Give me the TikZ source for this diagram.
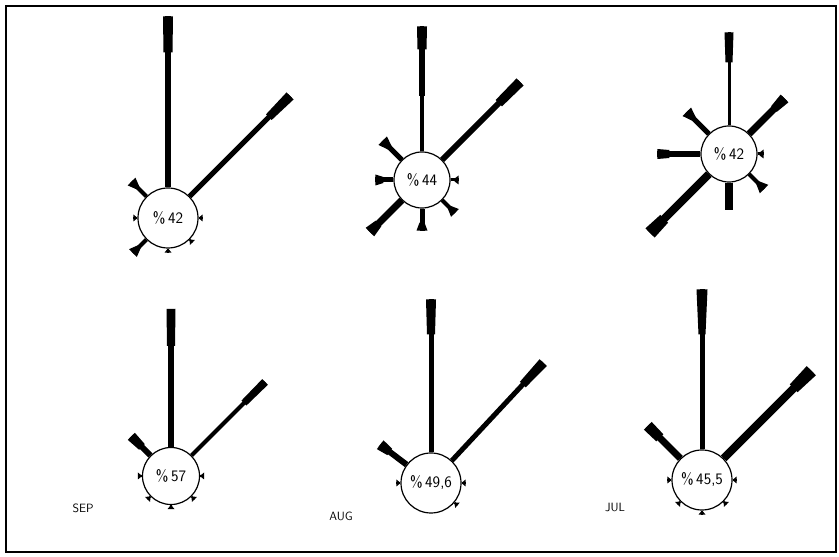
\documentclass[tikz,border=0pt]{standalone}
\usepackage{tikz}

% one arm of a rose: node, angle, length, neck width, head length, head widths
\newcommand{\windarm}[7]{%
  \begin{scope}[shift={(#1.#2)}, rotate=#2]
    \draw[line width=#4pt] (0,0) -- (#3,0);
    \fill (#3-#5, #6/2) -- (#3, #7/2) -- (#3, -#7/2) -- (#3-#5, -#6/2) -- cycle;
  \end{scope}}

\tikzset{
  rose/.style={circle, draw, line width=1.2pt, fill=white, inner sep=0pt,
    font=\sffamily\fontsize{16}{16}\selectfont},
  month/.style={font=\sffamily\large}
}

\begin{document}
\begin{tikzpicture}[x=1pt, y=1pt]
\useasboundingbox (0,0) rectangle (839,557);
\draw[line width=2pt] (6,5) rectangle (836,551);

% top row
\node[rose, minimum size=60pt] (topa) at (168,339) {\%\,42};
\foreach \a/\l/\w/\e/\p/\q in {90/171/6/36/9/10, 45/142/5/30/8/10,
    135/21/4/9/4/11, 225/19/4/9/4/11, 180/4/2/3/2/7, 270/4/2/3/2/7,
    315/4/2/3/2/7, 0/4/2/3/2/7}
  \windarm{topa}{\a}{\l}{\w}{\e}{\p}{\q};

\node[rose, minimum size=56pt] (topb) at (422,377) {\%\,44};
\windarm{topb}{90}{102}{3.5}{47}{6}{6}
\foreach \a/\l/\w/\e/\p/\q in {90/125/3.5/23/9/10, 45/110/6/30/9/10,
    135/27/5/10/5/12, 180/18/5/8/6/11, 225/45/7/12/8/12, 270/22/5/8/5/11,
    315/18/4/8/4/11, 0/8/3/4/3/9}
  \windarm{topb}{\a}{\l}{\w}{\e}{\p}{\q};

\node[rose, minimum size=56pt] (topc) at (729,403) {\%\,42};
\foreach \a/\l/\w/\e/\p/\q in {90/93/3/30/7/9, 45/50/7/15/8/11,
    135/31/5/10/5/12, 180/43/6/12/8/10, 225/83/8/20/11/13, 270/27/8/10/8/8,
    315/21/4/9/4/12, 0/6/3/4/3/9}
  \windarm{topc}{\a}{\l}{\w}{\e}{\p}{\q};

% bottom row
\node[rose, minimum size=57pt] (rsep) at (171,81) {\%\,57};
\foreach \a/\l/\w/\e/\p/\q in {90/138/6/37/8/9, 45/104/4/30/7/8,
    135/27/6/15/8/10, 180/4/2/3/2/7, 225/4/2/3/2/7, 270/4/2/3/2/7,
    315/4/2/3/2/7, 0/4/2/3/2/7}
  \windarm{rsep}{\a}{\l}{\w}{\e}{\p}{\q};

\node[rose, minimum size=60pt] (raug) at (431,74) {\%\,49,6};
\foreach \a/\l/\w/\e/\p/\q in {90/153/5/35/8/10, 47/134/5/30/8/10,
    143/33/6/12/8/11, 180/4/2/3/2/7, 0/4/2/3/2/7, 320/4/2/3/2/7}
  \windarm{raug}{\a}{\l}{\w}{\e}{\p}{\q};

\node[rose, minimum size=60pt] (rjul) at (702,77) {\%\,45,5};
\foreach \a/\l/\w/\e/\p/\q in {90/160/5/45/7/11, 45/124/8/25/11/13,
    135/46/7/17/10/11, 180/4/2/3/2/7, 225/4/2/3/2/7, 270/4/2/3/2/7,
    315/4/2/3/2/7, 0/4/2/3/2/7}
  \windarm{rjul}{\a}{\l}{\w}{\e}{\p}{\q};

\node[month] (sep) at (83,49) {SEP};
\node[month] (aug) at (341,41) {AUG};
\node[month] (jul) at (615,50) {JUL};
\end{tikzpicture}
\end{document}
